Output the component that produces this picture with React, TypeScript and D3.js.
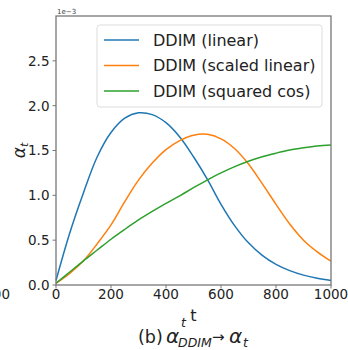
import React from "react";
import * as d3 from "d3";

const tSteps = [0, 50, 100, 150, 200, 250, 300, 350, 400, 450, 500, 550, 600, 650, 700, 750, 800, 850, 900, 950, 1000];
const linearVals = [0.05, 0.58, 1.03, 1.43, 1.70, 1.86, 1.92, 1.90, 1.81, 1.65, 1.43, 1.18, 0.90, 0.66, 0.47, 0.33, 0.23, 0.16, 0.11, 0.075, 0.05];
const scaledVals = [0.02, 0.13, 0.27, 0.46, 0.67, 0.93, 1.17, 1.36, 1.51, 1.61, 1.67, 1.68, 1.63, 1.52, 1.35, 1.13, 0.90, 0.68, 0.50, 0.37, 0.265];
const cosVals = [0.02, 0.145, 0.27, 0.39, 0.51, 0.62, 0.725, 0.82, 0.91, 0.995, 1.085, 1.17, 1.25, 1.32, 1.38, 1.43, 1.47, 1.505, 1.53, 1.55, 1.56];
const seriesNames = ["DDIM (linear)", "DDIM (scaled linear)", "DDIM (squared cos)"];
const seriesColors = ["#1f77b4", "#ff7f0e", "#2ca02c"];
const xTicks = [0, 200, 400, 600, 800, 1000];
const yTicks = [0, 0.5, 1.0, 1.5, 2.0, 2.5];

const FONT = "DejaVu Sans";

export default function App() {
  const left = 56, right = 331, top = 16, bottom = 285;
  const x = d3.scaleLinear().domain([0, 1000]).range([left, right]);
  const y = d3.scaleLinear().domain([0, 3]).range([bottom, top]);
  const line = d3
    .line<number>()
    .x((_, i) => x(tSteps[i]))
    .y((d) => y(d))
    .curve(d3.curveCatmullRom.alpha(0.5));
  const series = [linearVals, scaledVals, cosVals];
  const spine = "#777";
  const tickLen = 3.5;

  return (
    <svg width={348} height={350} style={{ position: "absolute", left: 0, top: 0, background: "#fff" }} fontFamily={FONT}>
      <rect x={0} y={0} width={348} height={350} fill="#fff" />
      {/* cut-off label of neighboring panel */}
      <text x={10} y={299} fontSize={13.5} textAnchor="end" fill="#222">1000</text>

      {series.map((s, i) => (
        <path key={i} d={line(s) || ""} fill="none" stroke={seriesColors[i]} strokeWidth={1.5} />
      ))}

      {/* spines */}
      <rect x={left} y={top} width={right - left} height={bottom - top} fill="none" stroke={spine} strokeWidth={1.3} />

      {/* y ticks */}
      {yTicks.map((t) => (
        <g key={"y" + t}>
          <line x1={left - tickLen} x2={left} y1={y(t)} y2={y(t)} stroke={spine} strokeWidth={1} />
          <text x={left - 6.5} y={y(t)} dy="0.36em" fontSize={13.5} textAnchor="end" fill="#222">
            {t.toFixed(1)}
          </text>
        </g>
      ))}
      {/* x ticks */}
      {xTicks.map((t) => (
        <g key={"x" + t}>
          <line x1={x(t)} x2={x(t)} y1={bottom} y2={bottom + tickLen} stroke={spine} strokeWidth={1} />
          <text x={x(t)} y={299} fontSize={13.5} textAnchor="middle" fill="#222">
            {t}
          </text>
        </g>
      ))}
      <text x={57} y={14} fontSize={7} fill="#444">1e−3</text>

      {/* axis labels */}
      <text x={(left + right) / 2} y={321} fontSize={16} textAnchor="middle" fill="#222">t</text>
      <g transform={`translate(25,${(top + bottom) / 2}) rotate(-90)`}>
        <text x={0} y={0} fontSize={17} textAnchor="middle" fill="#222">
          <tspan fontStyle="italic">α</tspan>
          <tspan fontStyle="italic" fontSize={11} dy={3}>t</tspan>
        </text>
      </g>

      {/* legend */}
      <rect x={97} y={25} width={225} height={82} rx={3} fill="#fff" fillOpacity={0.8} stroke="#ddd" strokeWidth={1} />
      {seriesNames.map((n, i) => (
        <g key={n}>
          <line x1={104} x2={139} y1={40 + i * 25.5} y2={40 + i * 25.5} stroke={seriesColors[i]} strokeWidth={1.5} />
          <text x={153} y={40 + i * 25.5} dy="0.36em" fontSize={16} fill="#222">{n}</text>
        </g>
      ))}

      {/* caption */}
      <text x={138} y={343} fontSize={17.5} fill="#222">(b)</text>
      <text x={166} y={343} fontSize={20} fontStyle="italic" fill="#222">α</text>
      <text x={181} y={327} fontSize={12.5} fontStyle="italic" fill="#222">t</text>
      <text x={178} y={347} fontSize={12.5} fontStyle="italic" fill="#222">DDIM</text>
      <text x={212} y={342} fontSize={15} fill="#222">→</text>
      <text x={229} y={343} fontSize={20} fontStyle="italic" fill="#222">α</text>
      <text x={243} y={347} fontSize={12.5} fontStyle="italic" fill="#222">t</text>
    </svg>
  );
}
